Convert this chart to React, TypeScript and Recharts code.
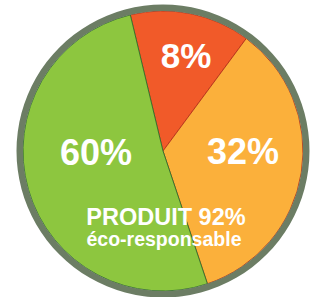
import { Cell, Pie, PieChart } from "recharts";

// slice shares as drawn (degrees of the circle)
const sliceNames = ["rouge", "orange", "vert"];
const sliceShares = [50, 125, 185];
const sliceLabels = ["8%", "32%", "60%"];
const sliceColors = ["#f15a29", "#fbb03b", "#8dc63f"];
const sliceStrokes = ["#b8331a", "#b8331a", "#2f6f2a"];

const productTitle = "PRODUIT 92%";
const productSubtitle = "éco-responsable";

const data = sliceNames.map((name, i) => ({ name, value: sliceShares[i] }));
const ring = [{ name: "bord", value: 1 }];

const CX = 163;
const CY = 151;
const START = 103.5;

const font = "'Liberation Sans', Arial, sans-serif";

export default function App() {
  return (
    <div style={{ position: "absolute", left: 0, top: 0, width: 310, height: 297 }}>
      <PieChart width={310} height={297} margin={{ top: 0, right: 0, bottom: 0, left: 0 }}>
        <Pie
          data={data}
          dataKey="value"
          cx={CX}
          cy={CY}
          innerRadius={0}
          outerRadius={140}
          startAngle={START}
          endAngle={START - 360}
          strokeWidth={0.9}
          isAnimationActive={false}
        >
          {data.map((d, i) => (
            <Cell key={d.name} fill={sliceColors[i]} stroke={sliceStrokes[i]} />
          ))}
        </Pie>
        <Pie
          data={ring}
          dataKey="value"
          cx={CX}
          cy={CY}
          innerRadius={140}
          outerRadius={146.5}
          startAngle={90}
          endAngle={-270}
          fill="#6c7d64"
          stroke="none"
          isAnimationActive={false}
        />
      </PieChart>
      {/* texte posé par-dessus le camembert */}
      <svg
        width={310}
        height={297}
        style={{ position: "absolute", left: 0, top: 0, pointerEvents: "none" }}
      >
        <g fontFamily={font} fontWeight="bold" fill="#ffffff" textAnchor="middle">
          <text x={186} y={68} fontSize={35}>{sliceLabels[0]}</text>
          <text x={243} y={164} fontSize={36}>{sliceLabels[1]}</text>
          <text x={96} y={165} fontSize={36}>{sliceLabels[2]}</text>
          <text x={166} y={225} fontSize={23.5}>{productTitle}</text>
          <text x={164} y={246} fontSize={19.5}>{productSubtitle}</text>
        </g>
      </svg>
    </div>
  );
}
